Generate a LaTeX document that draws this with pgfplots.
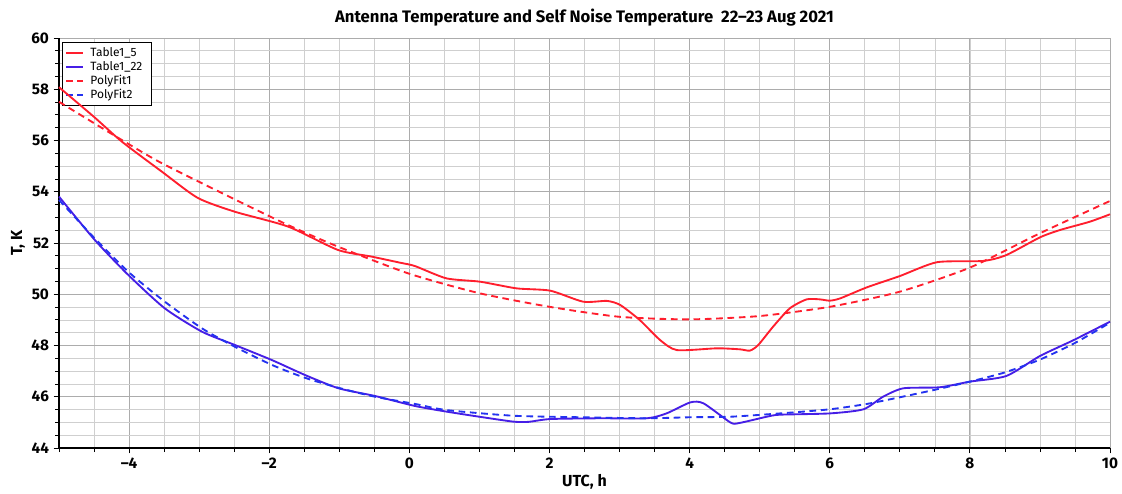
\documentclass[border=0pt]{standalone}
\usepackage{fontspec}
\setmainfont{Fira Sans}
\usepackage{pgfplots}
\pgfplotsset{compat=1.18}
\definecolor{cred}{RGB}{255,30,45}
\definecolor{cblue}{RGB}{70,30,230}
\definecolor{cblued}{RGB}{35,50,240}
\begin{document}
\begin{tikzpicture}
\begin{axis}[
  set layers=standard,
  scale only axis, width=788.25pt, height=307.5pt,
  xmin=-5, xmax=10, ymin=44, ymax=60,
  xtick={-4,-2,...,10}, xticklabels={–4,–2,0,2,4,6,8,10},
  minor xtick={-5,-4.5,...,10},
  ytick={44,46,...,60},
  minor ytick={44,44.5,...,60},
  grid=both,
  major grid style={gray!65, line width=0.6pt},
  minor grid style={gray!38, line width=0.5pt},
  axis x line=bottom, axis y line=left,
  axis line style={-, black, line width=0.8pt},
  tick align=outside, major tick length=4pt, minor tick length=3pt,
  tick style={black, line width=0.6pt},
  ticklabel style={font=\bfseries\fontsize{11.5}{13}\selectfont},
  /pgf/number format/assume math mode=true,
  xlabel={UTC, h}, ylabel={T, K},
  label style={font=\bfseries\fontsize{12}{14}\selectfont},
  xlabel style={yshift=3pt},
  ylabel style={yshift=-2pt},
  legend style={at={(0.003,0.99)}, anchor=north west, draw=black, fill=white,
    font=\fontsize{9}{10}\selectfont, row sep=-2pt, inner sep=2pt,
    nodes={inner xsep=4.5pt}},
  legend cell align=left,
  legend image code/.code={\draw[#1, line width=1.5pt] (2pt,0pt) -- (15pt,0pt);},
  every axis plot/.append style={line width=1.4pt, /pgfplots/on layer=axis foreground},
]
\addplot[cred, smooth, tension=0.4] coordinates {
(-5.00,58.08) (-4.50,56.92) (-4.10,55.95) (-3.53,54.78) (-3.02,53.76) (-2.49,53.22)
(-1.73,52.64) (-1.02,51.73) (-0.54,51.47) (-0.13,51.23) (0.08,51.10) (0.53,50.62)
(1.01,50.49) (1.53,50.23) (2.01,50.14) (2.48,49.71) (2.82,49.74) (3.01,49.58)
(3.29,48.99) (3.58,48.21) (3.82,47.82) (4.39,47.89) (4.72,47.85) (4.86,47.80)
(4.98,48.02) (5.19,48.73) (5.43,49.45) (5.67,49.80) (5.86,49.80) (6.00,49.75)
(6.15,49.84) (6.53,50.27) (7.00,50.71) (7.53,51.25) (8.19,51.30) (8.52,51.53)
(9.00,52.22) (9.29,52.51) (9.71,52.83) (10.00,53.12)};
\addlegendentry{Table1\_5}
\addplot[cblue, smooth, tension=0.4] coordinates {
(-5.00,53.81) (-4.49,52.12) (-4.01,50.75) (-3.49,49.45) (-2.96,48.54) (-2.49,48.02)
(-1.96,47.43) (-1.49,46.85) (-1.01,46.33) (-0.49,46.03) (0.08,45.64) (0.53,45.42)
(1.00,45.22) (1.48,45.03) (1.70,45.02) (2.01,45.13) (2.72,45.16) (3.39,45.16)
(3.67,45.35) (4.01,45.78) (4.20,45.74) (4.58,45.00) (4.70,44.97) (5.10,45.22)
(5.29,45.30) (6.00,45.35) (6.48,45.51) (6.76,46.00) (7.05,46.33) (7.57,46.37)
(8.00,46.59) (8.52,46.81) (9.00,47.59) (9.48,48.21) (10.00,48.93)};
\addlegendentry{Table1\_22}
\addplot[cred, dashed, dash pattern=on 5pt off 3.5pt, smooth, tension=0.4] coordinates {
(-5.00,57.51) (-4.34,56.41) (-4.00,55.85) (-3.53,55.11) (-2.49,53.70) (-1.73,52.70)
(-1.02,51.86) (0.00,50.80) (1.00,50.04) (2.00,49.51) (3.00,49.12) (4.00,49.02)
(5.00,49.15) (6.00,49.51) (7.00,50.10) (8.00,51.04) (9.00,52.38) (10.00,53.64)};
\addlegendentry{PolyFit1}
\addplot[cblued, dashed, dash pattern=on 5pt off 3.5pt, smooth, tension=0.4] coordinates {
(-5.00,53.68) (-4.49,52.18) (-4.00,50.85) (-3.49,49.71) (-2.96,48.67) (-2.49,47.95)
(-1.96,47.24) (-1.49,46.74) (-1.01,46.35) (-0.49,46.00) (0.08,45.72) (0.53,45.48)
(1.48,45.26) (2.44,45.20) (3.39,45.16) (4.01,45.20) (4.58,45.22) (5.29,45.35)
(6.00,45.51) (6.53,45.72) (7.00,45.98) (7.48,46.26) (8.00,46.59) (8.50,46.95)
(9.00,47.45) (9.50,48.10) (10.00,48.89)};
\addlegendentry{PolyFit2}
\coordinate (tt) at (rel axis cs:0.5,1);
\coordinate (ll) at (rel axis cs:0,0);
\coordinate (ur) at (rel axis cs:1,1);
\end{axis}
\node[anchor=base, yshift=11.25pt, font=\bfseries\fontsize{12.5}{14}\selectfont] at (tt)
  {Antenna Temperature and Self Noise Temperature\ \ 22–23 Aug 2021};
\pgfresetboundingbox
\path[use as bounding box] ([xshift=-44.25pt,yshift=-33.75pt]ll) rectangle ([xshift=9pt,yshift=28.5pt]ur);
\end{tikzpicture}
\end{document}
